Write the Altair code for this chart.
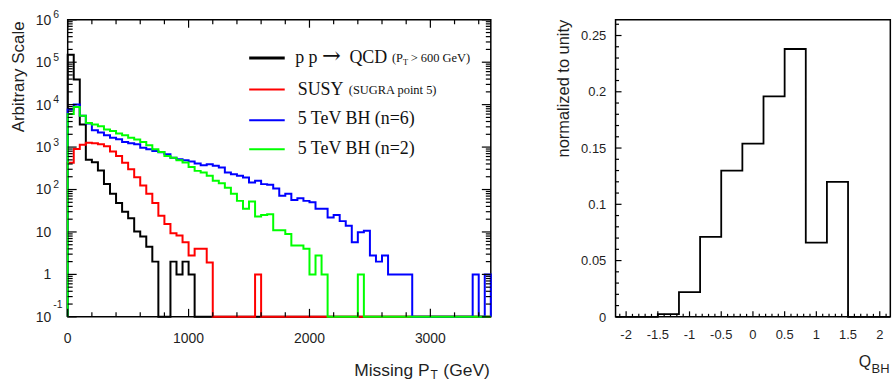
import altair as alt
import pandas as pd

# ---------------------------------------------------------------------------
# Missing transverse momentum, 50 GeV bins from 0 to 3500 GeV (70 bins)
# ---------------------------------------------------------------------------
PT_BIN_WIDTH = 50
PT_MAX = 3500

QCD = [
    150000, 39000, 3400, 500, 440, 280, 135, 80, 48, 30,
    21, 10.3, 7.8, 4.5, 2, 0, 0, 2, 1, 2,
    1, 0, 0, 0, 0, 0, 0, 0, 0, 0,
    0, 0, 0, 0, 0, 0, 0, 0, 0, 0,
    0, 0, 0, 0, 0, 0, 0, 0, 0, 0,
    0, 0, 0, 0, 0, 0, 0, 0, 0, 0,
    0, 0, 0, 0, 0, 0, 0, 0, 0, 0,
]
SUSY = [
    430, 900, 1140, 1270, 1230, 1170, 1040, 790, 620, 430,
    300, 195, 125, 80, 48, 24, 15.4, 9.3, 8.2, 5.7,
    2.8, 4, 4, 1.9, 0, 0, 0, 0, 0, 0,
    0, 1, 0, 0, 0, 0, 0, 0, 0, 0,
    0, 0, 0, 0, 0, 0, 0, 0, 0, 0,
    0, 0, 0, 0, 0, 0, 0, 0, 0, 0,
    0, 0, 0, 0, 0, 0, 0, 0, 0, 0,
]
BH_N6 = [
    7700, 10100, 5500, 3600, 2500, 2200, 1900, 1650, 1520, 1320,
    1230, 1160, 970, 890, 810, 760, 680, 564, 516, 490,
    460, 410, 375, 395, 361, 330, 251, 230, 210, 191,
    146, 160, 134, 129, 105, 71, 80, 57, 62, 54,
    50, 35, 35, 22, 25, 18, 14, 5.7, 9.8, 10.7,
    2.8, 2, 2.8, 1, 1, 1, 1, 0, 0, 0,
    0, 0, 0, 0, 0, 0, 0, 1, 0, 1,
]
BH_N2 = [
    6000, 8800, 5500, 3700, 3400, 3100, 2600, 2400, 2100, 1900,
    1650, 1500, 1320, 1100, 890, 770, 620, 564, 490, 431,
    340, 275, 251, 210, 160, 140, 110, 80, 54, 35,
    52, 23, 25, 26, 11, 11, 9, 4.8, 4.8, 4,
    1, 2.8, 1, 0, 0, 0, 0, 0, 1, 0,
    0, 0, 0, 0, 0, 0, 0, 0, 0, 0,
    0, 0, 0, 0, 0, 0, 0, 0, 0, 0,
]

Y_FLOOR = 0.1
Y_TOP = 1e6

# y tick labels of the log axis: mantissa text and exponent text
Y_TICKS = [1e6, 1e5, 1e4, 1e3, 1e2, 10, 1, 0.1]
Y_TICK_BASE = ["10", "10", "10", "10", "10", "10", "1", "10"]
Y_TICK_EXP = ["6", "5", "4", "3", "2", "", "", "-1"]

X_LABELS = [0, 1000, 2000, 3000]

# ---------------------------------------------------------------------------
# Black-hole charge, 13 bins of width 1/3 centred on zero
# ---------------------------------------------------------------------------
Q_START = -13 / 6
Q_BIN_WIDTH = 1 / 3
Q_FRACTION = [0, 0, 0.0025, 0.022, 0.071, 0.130, 0.154, 0.196, 0.238,
              0.066, 0.120, 0, 0]
Q_YMAX = 0.264
Q_Y_TICKS = [0, 0.05, 0.1, 0.15, 0.2, 0.25]
Q_Y_LABELS = ["0", "0.05", "0.1", "0.15", "0.2", "0.25"]
Q_X_TICKS = [-2, -1.5, -1, -0.5, 0, 0.5, 1, 1.5, 2]
Q_X_LABELS = ["-2", "-1.5", "-1", "-0.5", "0", "0.5", "1", "1.5", "2"]

SANS = "Liberation Sans"
SERIF = "Liberation Serif"
INK = "#1f1f1f"
LEGEND_INK = "#111111"

LW, LH = 425, 298.4      # left plot area
RW, RH = 276, 298.4      # right plot area


def step_frame(values, start, width, floor):
    """Outline of a histogram: rises from the floor, steps through the bins, drops back."""
    xs, ys = [start], [floor]
    for i, v in enumerate(values):
        xs.append(start + i * width)
        ys.append(max(v, floor))
    end = start + len(values) * width
    xs += [end, end]
    ys += [max(values[-1], floor), floor]
    return pd.DataFrame({"x": xs, "y": ys, "order": list(range(len(xs)))})


def text(label, x, y, size, font=SANS, align="left", angle=0, color=INK):
    return alt.Chart(pd.DataFrame({"t": [label]})).mark_text(
        align=align, baseline="alphabetic", font=font, fontSize=size,
        color=color, angle=angle
    ).encode(x=alt.value(x), y=alt.value(y), text="t:N")


def vticks(values, scale, edge, length, inward):
    """Vertical tick marks on a horizontal frame edge, pointing into the plot."""
    centre = edge + inward * length / 2
    return alt.Chart(pd.DataFrame({"x": values})).mark_tick(
        orient="vertical", size=length, thickness=1.2, color="black", opacity=1
    ).encode(x=alt.X("x:Q", scale=scale, axis=None), y=alt.value(centre))


def hticks(values, scale, edge, length, inward):
    """Horizontal tick marks on a vertical frame edge, pointing into the plot."""
    centre = edge + inward * length / 2
    return alt.Chart(pd.DataFrame({"y": values})).mark_tick(
        orient="horizontal", size=length, thickness=1.2, color="black", opacity=1
    ).encode(y=alt.Y("y:Q", scale=scale, axis=None), x=alt.value(centre))


# ---------------------------------------------------------------- left panel
x_pt = alt.Scale(domain=[0, PT_MAX], nice=False, zero=False)
y_log = alt.Scale(type="log", domain=[Y_FLOOR, Y_TOP], nice=False)

hist_layers = []
for values, color in [(QCD, "#000000"), (SUSY, "#ff0000"),
                      (BH_N6, "#0000ff"), (BH_N2, "#00ff00")]:
    df = step_frame(values, 0, PT_BIN_WIDTH, Y_FLOOR)
    hist_layers.append(
        alt.Chart(df).mark_line(interpolate="step-after", strokeWidth=2, color=color)
        .encode(x=alt.X("x:Q", scale=x_pt, axis=None),
                y=alt.Y("y:Q", scale=y_log, axis=None),
                order="order:Q")
    )

x_major = X_LABELS
x_minor = [v for v in range(200, PT_MAX, 200) if v % 1000]
y_major = Y_TICKS
y_minor = [m * 10.0 ** k for k in range(-1, 6) for m in range(2, 10)]

left_ticks = [
    vticks(x_major, x_pt, LH, 8, -1), vticks(x_minor, x_pt, LH, 4.5, -1),
    vticks(x_major, x_pt, 0, 8, 1), vticks(x_minor, x_pt, 0, 4.5, 1),
    hticks(y_major, y_log, 0, 9, 1), hticks(y_minor, y_log, 0, 5, 1),
    hticks(y_major, y_log, LW, 9, -1), hticks(y_minor, y_log, LW, 5, -1),
]

ylab = pd.DataFrame({"y": Y_TICKS, "base": Y_TICK_BASE, "exp": Y_TICK_EXP})
y_base = alt.Chart(ylab).mark_text(
    align="right", baseline="alphabetic", font=SANS, fontSize=14, color=INK, dy=5
).encode(y=alt.Y("y:Q", scale=y_log, axis=None), x=alt.value(-16.5), text="base:N")
y_exp_pos = alt.Chart(ylab).transform_filter(
    "datum.exp != '' && datum.exp != '-1'"
).mark_text(
    align="left", baseline="alphabetic", font=SANS, fontSize=10.5, color=INK, dy=-1.5
).encode(y=alt.Y("y:Q", scale=y_log, axis=None), x=alt.value(-14.5), text="exp:N")
y_exp_neg = alt.Chart(ylab).transform_filter("datum.exp == '-1'").mark_text(
    align="left", baseline="alphabetic", font=SANS, fontSize=10.5, color=INK, dy=-9
).encode(y=alt.Y("y:Q", scale=y_log, axis=None), x=alt.value(-14.5), text="exp:N")

x_lab = alt.Chart(pd.DataFrame({"x": X_LABELS, "t": [str(v) for v in X_LABELS]})).mark_text(
    align="center", baseline="alphabetic", font=SANS, fontSize=14, color=INK
).encode(x=alt.X("x:Q", scale=x_pt, axis=None), y=alt.value(325), text="t:N")

# legend: sample lines and labels
legend_rows = [
    ("#000000", 3, 38.4),
    ("#ff0000", 2, 70),
    ("#0000ff", 2, 101),
    ("#00ff00", 2, 130),
]
legend = [
    alt.Chart(pd.DataFrame({"c": [color]})).mark_rule(color=color, strokeWidth=width)
    .encode(x=alt.value(182.3), x2=alt.value(218), y=alt.value(ly))
    for color, width, ly in legend_rows
]
legend += [
    text("p p", 228.5, 43.5, 18, font=SERIF, color=LEGEND_INK),
    text("\u2192", 255.5, 43.5, 22.5, font="DejaVu Serif", color=LEGEND_INK),
    text("QCD", 283, 43.5, 18, font=SERIF, color=LEGEND_INK),
    text("(P", 325.7, 42.5, 12.5, font=SERIF, color=LEGEND_INK),
    text("T", 336.8, 45.5, 8.5, font=SERIF, color=LEGEND_INK),
    text("> 600 GeV)", 344.5, 42.5, 12.5, font=SERIF, color=LEGEND_INK),
    text("SUSY", 231, 75.7, 18, font=SERIF, color=LEGEND_INK),
    text("(SUGRA point 5)", 282.3, 74.5, 12.5, font=SERIF, color=LEGEND_INK),
    text("5 TeV BH (n=6)", 231, 105, 18, font=SERIF, color=LEGEND_INK),
    text("5 TeV BH (n=2)", 231, 134.5, 18, font=SERIF, color=LEGEND_INK),
]

left_titles = [
    text("Arbitrary Scale", -44, 1.7, 17, align="right", angle=270),
    text("Missing P", 363.5, 357.7, 17.5, align="right"),
    text("T", 364.5, 361, 12),
    text("(GeV)", 424, 357.7, 17.5, align="right"),
]

left = alt.layer(
    *hist_layers, *left_ticks, y_base, y_exp_pos, y_exp_neg, x_lab, *legend, *left_titles
).properties(width=LW, height=LH)

# --------------------------------------------------------------- right panel
x_q = alt.Scale(domain=[Q_START, -Q_START], nice=False, zero=False)
y_q = alt.Scale(domain=[0, Q_YMAX], nice=False)

q_hist = alt.Chart(step_frame(Q_FRACTION, Q_START, Q_BIN_WIDTH, 0)).mark_line(
    interpolate="step-after", strokeWidth=1.8, color="black"
).encode(x=alt.X("x:Q", scale=x_q, axis=None),
         y=alt.Y("y:Q", scale=y_q, axis=None),
         order="order:Q")

qx_major = Q_X_TICKS
qx_minor = [k / 10 for k in range(-21, 22) if k % 5]
qy_major = Q_Y_TICKS
qy_minor = [k / 100 for k in range(1, 27) if k % 5]

right_ticks = [
    vticks(qx_major, x_q, RH, 5.5, -1), vticks(qx_minor, x_q, RH, 3, -1),
    hticks(qy_major, y_q, 0, 6, 1), hticks(qy_minor, y_q, 0, 3.5, 1),
]

qy_lab = alt.Chart(pd.DataFrame({"y": Q_Y_TICKS, "t": Q_Y_LABELS})).mark_text(
    align="right", baseline="alphabetic", font=SANS, fontSize=13, color=INK, dy=4.7
).encode(y=alt.Y("y:Q", scale=y_q, axis=None), x=alt.value(-9.3), text="t:N")
qx_lab = alt.Chart(pd.DataFrame({"x": Q_X_TICKS, "t": Q_X_LABELS})).mark_text(
    align="center", baseline="alphabetic", font=SANS, fontSize=13, color=INK
).encode(x=alt.X("x:Q", scale=x_q, axis=None), y=alt.value(321), text="t:N")

right_titles = [
    text("normalized to unity", -46.5, 0, 16.5, align="right", angle=270),
    text("Q", 256.7, 349.2, 16, align="right"),
    text("BH", 257.2, 354.4, 13),
]

right = alt.layer(
    q_hist, *right_ticks, qy_lab, qx_lab, *right_titles
).properties(width=RW, height=RH)

chart = alt.hconcat(
    left, right, spacing=125.3, bounds="flush"
).properties(
    padding={"left": 9, "top": 8, "right": 0, "bottom": 0},
    background="white",
).configure_view(stroke="black", strokeWidth=1.5)

chart.save("out.html", embed_options={"renderer": "svg", "actions": False})
